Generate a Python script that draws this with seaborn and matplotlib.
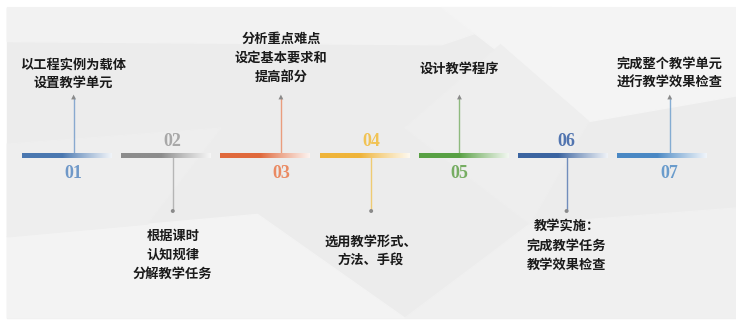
import matplotlib.pyplot as plt
import numpy as np
import pandas as pd
import seaborn as sns
from matplotlib.patches import Polygon, Rectangle
from matplotlib.colors import to_rgb

# data
steps = ["01", "02", "03", "04", "05", "06", "07"]
labels = [
    "以工程实例为载体\n设置教学单元",
    "根据课时\n认知规律\n分解教学任务",
    "分析重点难点\n设定基本要求和\n提高部分",
    "选用教学形式、\n方法、手段",
    "设计教学程序",
    "教学实施：\n完成教学任务\n教学效果检查",
    "完成整个教学单元\n进行教学效果检查",
]
side = ["up", "down", "up", "down", "up", "down", "up"]
bar_colors = ["#4a78b0", "#8c8c8c", "#e0693c", "#efb43a", "#58a044", "#3b64a0", "#4a88c4"]
num_colors = ["#6f98c8", "#a8a8a8", "#ea8a62", "#f1c354", "#76ad62", "#5275b0", "#6a9ccc"]

# layout (pixel-ish)
pointer_off = [0.52, 0.52, 0.61, 0.52, 0.41, 0.49, 0.53]
text_y = [90, 229, 84, 235, 76, 220, 90]
line_y = 156

sns.set_theme(style="white")
plt.rcParams["font.family"] = ["Noto Sans CJK SC", "DejaVu Sans"]

fig = plt.figure(figsize=(7.36, 3.2), dpi=100)
ax = fig.add_axes([0, 0, 1, 1])
ax.set_xlim(0.2782, 7.698)
ax.set_ylim(320, 0)
ax.axis("off")
fig.patch.set_facecolor("white")

# background panel with soft white shapes
T = ax.transAxes
ax.add_patch(Rectangle((0.01, 0.006), 0.99, 0.97, transform=T, color="#ececec", zorder=0))
shapes = [
    ([(0.01, 0.976), (0.75, 0.976), (0.60, 0.86), (0.01, 0.87)], "#f2f2f2"),
    ([(0.60, 0.976), (1.0, 0.976), (1.0, 0.70), (0.80, 0.62)], "#f4f4f4"),
    ([(0.01, 0.006), (0.01, 0.26), (0.35, 0.33), (0.55, 0.006)], "#f3f3f3"),
    ([(0.55, 0.006), (1.0, 0.006), (1.0, 0.35), (0.72, 0.30)], "#f0f0f0"),
    ([(0.01, 0.55), (0.30, 0.60), (0.20, 0.30), (0.01, 0.26)], "#eeeeee"),
    ([(0.55, 0.60), (0.68, 0.86), (0.80, 0.62), (0.72, 0.30)], "#eeeeee"),
]
for pts, c in shapes:
    ax.add_patch(Polygon(pts, closed=True, transform=T, color=c, zorder=0))

# gradient segments (colour fading to white on the right)
n = 200
t = np.linspace(0, 1, n)
w = np.clip((t - 0.45) / 0.55, 0, 1) ** 0.9 * 0.92
for i, c in enumerate(bar_colors):
    x0 = i + 1 - 0.5
    x1 = i + 1 + 0.4
    rgb = np.array(to_rgb(c))
    img = np.ones((1, n, 3))
    img[0] = rgb[None, :] * (1 - w[:, None]) + w[:, None]
    ax.imshow(img, extent=(x0, x1, line_y + 2.2, line_y - 2.2), aspect="auto",
              interpolation="bilinear", zorder=2)

# pointers
df = pd.DataFrame({
    "x": [i + 1 - 0.5 + o for i, o in enumerate(pointer_off)],
    "side": side,
    "color": num_colors,
})
for _, r in df.iterrows():
    end = 97 if r["side"] == "up" else 211
    ax.plot([r["x"], r["x"]], [line_y, end], color=r["color"], lw=1.0, alpha=0.8, zorder=1)
up = df[df["side"] == "up"].assign(y=97)
dn = df[df["side"] == "down"].assign(y=211)
sns.scatterplot(data=up, x="x", y="y", marker="^", s=12, color="#8a8a8a",
                edgecolor="none", ax=ax, zorder=3)
sns.scatterplot(data=dn, x="x", y="y", marker="o", s=8, color="#8a8a8a",
                edgecolor="none", ax=ax, zorder=3)

# numbers and texts
for i, r in df.iterrows():
    ny = 173 if r["side"] == "up" else 142
    ax.text(r["x"], ny, steps[i], ha="center", va="center", color=r["color"],
            fontsize=13, family="Liberation Serif", fontweight="bold", zorder=4)
    va = "bottom" if r["side"] == "up" else "top"
    ax.text(r["x"], text_y[i], labels[i], ha="center", va=va, fontsize=9.5,
            fontweight="bold", color="#1a1a1a", linespacing=1.45, zorder=4)

fig.savefig("out.png", dpi=100)
